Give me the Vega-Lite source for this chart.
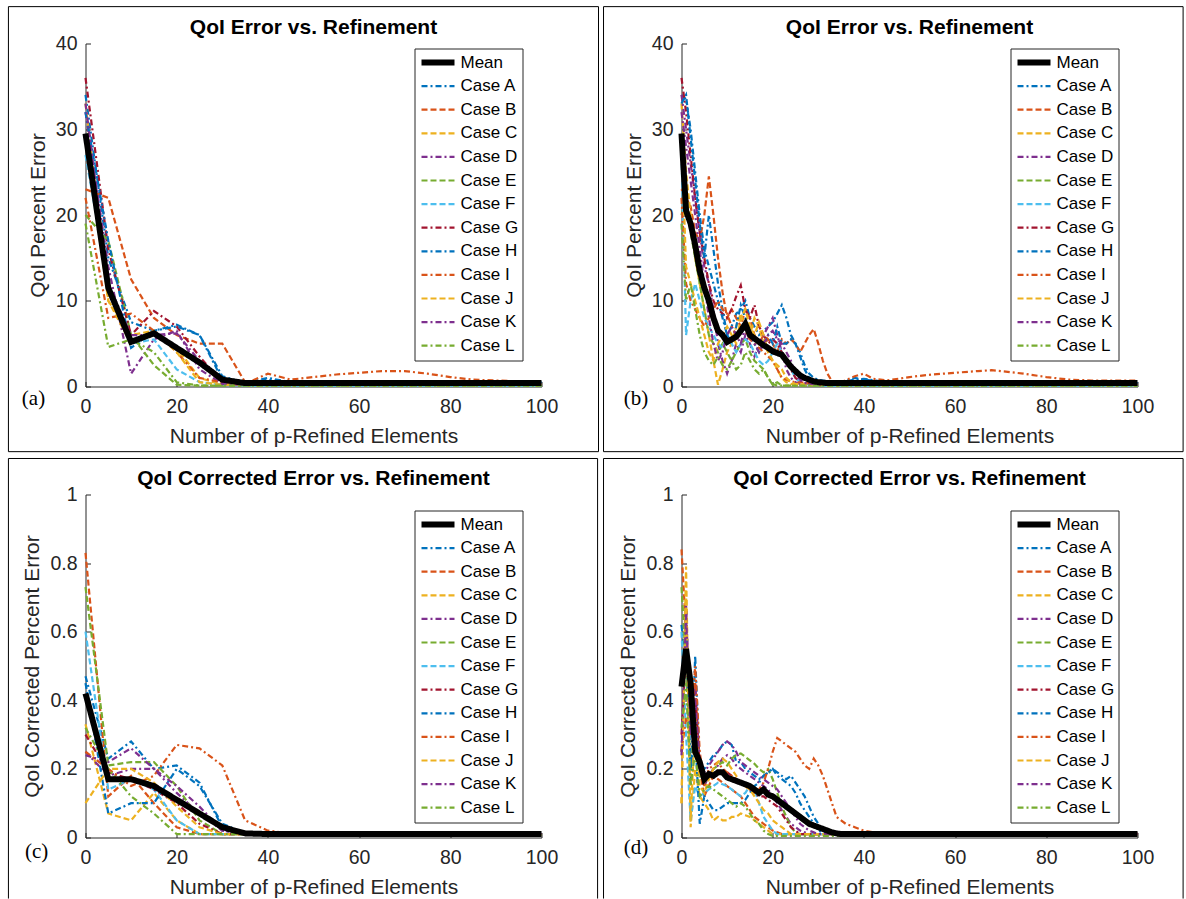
{
"$schema": "https://vega.github.io/schema/vega-lite/v6.json",
"background": "white",
"padding": {"left": 7.5, "top": 5.5, "right": 2, "bottom": 0},
"config": {
 "view": {"stroke": null},
 "font": "Liberation Sans",
 "axis": {"grid": false, "domainColor": "#262626", "domainWidth": 1, "tickColor": "#262626", "tickWidth": 1, "tickSize": -5, "labelColor": "#262626", "labelFont": "Liberation Sans", "labelFontSize": 19.5, "labelFlush": false, "labelOverlap": false, "titleColor": "#262626", "titleFont": "Liberation Sans", "titleFontSize": 21, "titleFontWeight": "normal"},
 "axisX": {"labelPadding": 15.5, "titlePadding": 10},
 "axisY": {"labelPadding": 13.5, "titlePadding": 7},
 "legend": {"orient": "none", "symbolType": "stroke", "symbolSize": 1089, "clipHeight": 20, "rowPadding": 3.6, "labelFont": "Liberation Sans", "labelFontSize": 17, "labelColor": "#000000", "labelOffset": 3, "padding": 4, "strokeColor": "#262626", "fillColor": "#ffffff"}
},
"datasets": {
"a": [
{"series":"Case A","x":0,"y":34},{"series":"Case A","x":5,"y":15},{"series":"Case A","x":10,"y":7.5},{"series":"Case A","x":15,"y":6.5},{"series":"Case A","x":20,"y":7.2},{"series":"Case A","x":25,"y":6},{"series":"Case A","x":30,"y":1.2},{"series":"Case A","x":35,"y":0.4},{"series":"Case A","x":40,"y":0.8},{"series":"Case A","x":45,"y":0.4},{"series":"Case A","x":100,"y":0.4},
{"series":"Case B","x":0,"y":23},{"series":"Case B","x":5,"y":22},{"series":"Case B","x":10,"y":12.5},{"series":"Case B","x":15,"y":8},{"series":"Case B","x":20,"y":6},{"series":"Case B","x":25,"y":5},{"series":"Case B","x":30,"y":5},{"series":"Case B","x":35,"y":0.5},{"series":"Case B","x":40,"y":0.3},{"series":"Case B","x":100,"y":0.3},
{"series":"Case C","x":0,"y":33},{"series":"Case C","x":5,"y":10},{"series":"Case C","x":10,"y":6},{"series":"Case C","x":15,"y":6.5},{"series":"Case C","x":20,"y":4.5},{"series":"Case C","x":25,"y":1},{"series":"Case C","x":30,"y":0.2},{"series":"Case C","x":35,"y":0.1},{"series":"Case C","x":100,"y":0.1},
{"series":"Case D","x":0,"y":32},{"series":"Case D","x":5,"y":14},{"series":"Case D","x":10,"y":1.5},{"series":"Case D","x":15,"y":5.5},{"series":"Case D","x":20,"y":6.5},{"series":"Case D","x":25,"y":2},{"series":"Case D","x":30,"y":0.3},{"series":"Case D","x":35,"y":0.2},{"series":"Case D","x":100,"y":0.2},
{"series":"Case E","x":0,"y":20},{"series":"Case E","x":5,"y":17},{"series":"Case E","x":10,"y":6},{"series":"Case E","x":15,"y":2.5},{"series":"Case E","x":20,"y":0.2},{"series":"Case E","x":25,"y":0.1},{"series":"Case E","x":100,"y":0.1},
{"series":"Case F","x":0,"y":27},{"series":"Case F","x":5,"y":12},{"series":"Case F","x":10,"y":5},{"series":"Case F","x":15,"y":5.5},{"series":"Case F","x":20,"y":2},{"series":"Case F","x":25,"y":0.5},{"series":"Case F","x":30,"y":0.2},{"series":"Case F","x":35,"y":0.1},{"series":"Case F","x":100,"y":0.1},
{"series":"Case G","x":0,"y":36},{"series":"Case G","x":5,"y":16},{"series":"Case G","x":10,"y":6},{"series":"Case G","x":15,"y":8.8},{"series":"Case G","x":20,"y":7},{"series":"Case G","x":25,"y":3.5},{"series":"Case G","x":30,"y":0.5},{"series":"Case G","x":35,"y":0.3},{"series":"Case G","x":100,"y":0.3},
{"series":"Case H","x":0,"y":32},{"series":"Case H","x":5,"y":17},{"series":"Case H","x":10,"y":4.5},{"series":"Case H","x":15,"y":6.5},{"series":"Case H","x":20,"y":7},{"series":"Case H","x":25,"y":6},{"series":"Case H","x":30,"y":0.8},{"series":"Case H","x":35,"y":0.4},{"series":"Case H","x":40,"y":1},{"series":"Case H","x":45,"y":0.5},{"series":"Case H","x":100,"y":0.5},
{"series":"Case I","x":0,"y":22},{"series":"Case I","x":5,"y":8},{"series":"Case I","x":10,"y":8.5},{"series":"Case I","x":15,"y":6.5},{"series":"Case I","x":20,"y":4},{"series":"Case I","x":25,"y":1},{"series":"Case I","x":30,"y":0.5},{"series":"Case I","x":35,"y":0.3},{"series":"Case I","x":40,"y":1.5},{"series":"Case I","x":45,"y":0.8},{"series":"Case I","x":50,"y":1.1},{"series":"Case I","x":55,"y":1.4},{"series":"Case I","x":60,"y":1.6},{"series":"Case I","x":65,"y":1.8},{"series":"Case I","x":70,"y":1.8},{"series":"Case I","x":75,"y":1.5},{"series":"Case I","x":80,"y":1.1},{"series":"Case I","x":85,"y":0.8},{"series":"Case I","x":90,"y":0.7},{"series":"Case I","x":95,"y":0.6},{"series":"Case I","x":100,"y":0.6},
{"series":"Case J","x":0,"y":29},{"series":"Case J","x":5,"y":10},{"series":"Case J","x":10,"y":5},{"series":"Case J","x":15,"y":6.5},{"series":"Case J","x":20,"y":4},{"series":"Case J","x":25,"y":0.5},{"series":"Case J","x":30,"y":0.2},{"series":"Case J","x":100,"y":0.2},
{"series":"Case K","x":0,"y":33},{"series":"Case K","x":5,"y":12},{"series":"Case K","x":10,"y":6},{"series":"Case K","x":15,"y":6},{"series":"Case K","x":20,"y":6.2},{"series":"Case K","x":25,"y":3},{"series":"Case K","x":30,"y":0.3},{"series":"Case K","x":35,"y":0.2},{"series":"Case K","x":100,"y":0.2},
{"series":"Case L","x":0,"y":19},{"series":"Case L","x":5,"y":4.6},{"series":"Case L","x":10,"y":5.5},{"series":"Case L","x":15,"y":4},{"series":"Case L","x":20,"y":0.5},{"series":"Case L","x":25,"y":0.1},{"series":"Case L","x":100,"y":0.1},
{"series":"Mean","x":0,"y":29.5},{"series":"Mean","x":5,"y":11.5},{"series":"Mean","x":10,"y":5.2},{"series":"Mean","x":15,"y":6.2},{"series":"Mean","x":20,"y":4.5},{"series":"Mean","x":25,"y":2.8},{"series":"Mean","x":30,"y":0.8},{"series":"Mean","x":35,"y":0.4},{"series":"Mean","x":100,"y":0.4}
],
"b": [
{"series":"Case A","x":0,"y":34},{"series":"Case A","x":1,"y":33.5},{"series":"Case A","x":2,"y":30},{"series":"Case A","x":3,"y":25},{"series":"Case A","x":4,"y":20},{"series":"Case A","x":5,"y":16},{"series":"Case A","x":6,"y":14},{"series":"Case A","x":7,"y":12},{"series":"Case A","x":8,"y":10},{"series":"Case A","x":9,"y":8},{"series":"Case A","x":10,"y":6},{"series":"Case A","x":11,"y":7},{"series":"Case A","x":12,"y":8.5},{"series":"Case A","x":13,"y":9},{"series":"Case A","x":14,"y":10},{"series":"Case A","x":15,"y":8},{"series":"Case A","x":16,"y":7},{"series":"Case A","x":17,"y":6},{"series":"Case A","x":18,"y":6.5},{"series":"Case A","x":19,"y":7},{"series":"Case A","x":20,"y":7.5},{"series":"Case A","x":21,"y":8.5},{"series":"Case A","x":22,"y":9.5},{"series":"Case A","x":23,"y":8},{"series":"Case A","x":24,"y":6},{"series":"Case A","x":25,"y":5},{"series":"Case A","x":26,"y":4},{"series":"Case A","x":27,"y":2.5},{"series":"Case A","x":28,"y":1.5},{"series":"Case A","x":29,"y":1},{"series":"Case A","x":30,"y":0.8},{"series":"Case A","x":32,"y":0.6},{"series":"Case A","x":35,"y":0.5},{"series":"Case A","x":38,"y":0.8},{"series":"Case A","x":40,"y":0.9},{"series":"Case A","x":45,"y":0.5},{"series":"Case A","x":100,"y":0.4},
{"series":"Case B","x":0,"y":23},{"series":"Case B","x":1,"y":22},{"series":"Case B","x":2,"y":21},{"series":"Case B","x":3,"y":18},{"series":"Case B","x":4,"y":17},{"series":"Case B","x":5,"y":20},{"series":"Case B","x":6,"y":24.5},{"series":"Case B","x":7,"y":20},{"series":"Case B","x":8,"y":15},{"series":"Case B","x":9,"y":11},{"series":"Case B","x":10,"y":8},{"series":"Case B","x":11,"y":9},{"series":"Case B","x":12,"y":8},{"series":"Case B","x":13,"y":7},{"series":"Case B","x":14,"y":9},{"series":"Case B","x":15,"y":8},{"series":"Case B","x":16,"y":6},{"series":"Case B","x":17,"y":5},{"series":"Case B","x":18,"y":6},{"series":"Case B","x":19,"y":5.5},{"series":"Case B","x":20,"y":5},{"series":"Case B","x":21,"y":4},{"series":"Case B","x":22,"y":5.5},{"series":"Case B","x":23,"y":5},{"series":"Case B","x":24,"y":5.5},{"series":"Case B","x":25,"y":5},{"series":"Case B","x":26,"y":4},{"series":"Case B","x":27,"y":5},{"series":"Case B","x":28,"y":6},{"series":"Case B","x":29,"y":6.7},{"series":"Case B","x":30,"y":5},{"series":"Case B","x":31,"y":3},{"series":"Case B","x":32,"y":1.5},{"series":"Case B","x":33,"y":0.6},{"series":"Case B","x":35,"y":0.4},{"series":"Case B","x":40,"y":0.3},{"series":"Case B","x":100,"y":0.3},
{"series":"Case C","x":0,"y":33},{"series":"Case C","x":1,"y":25},{"series":"Case C","x":2,"y":20},{"series":"Case C","x":3,"y":15},{"series":"Case C","x":4,"y":12},{"series":"Case C","x":5,"y":9},{"series":"Case C","x":6,"y":6},{"series":"Case C","x":7,"y":3},{"series":"Case C","x":8,"y":0.2},{"series":"Case C","x":9,"y":2},{"series":"Case C","x":10,"y":4},{"series":"Case C","x":11,"y":5},{"series":"Case C","x":12,"y":7},{"series":"Case C","x":13,"y":8.5},{"series":"Case C","x":14,"y":7},{"series":"Case C","x":15,"y":6},{"series":"Case C","x":16,"y":8},{"series":"Case C","x":17,"y":7},{"series":"Case C","x":18,"y":5},{"series":"Case C","x":19,"y":4},{"series":"Case C","x":20,"y":3},{"series":"Case C","x":21,"y":2},{"series":"Case C","x":22,"y":1},{"series":"Case C","x":23,"y":0.5},{"series":"Case C","x":24,"y":0.3},{"series":"Case C","x":25,"y":0.2},{"series":"Case C","x":30,"y":0.1},{"series":"Case C","x":100,"y":0.1},
{"series":"Case D","x":0,"y":34},{"series":"Case D","x":1,"y":30},{"series":"Case D","x":2,"y":26},{"series":"Case D","x":3,"y":22},{"series":"Case D","x":4,"y":18},{"series":"Case D","x":5,"y":14},{"series":"Case D","x":6,"y":12},{"series":"Case D","x":7,"y":9},{"series":"Case D","x":8,"y":5},{"series":"Case D","x":9,"y":3},{"series":"Case D","x":10,"y":1.5},{"series":"Case D","x":11,"y":3},{"series":"Case D","x":12,"y":5},{"series":"Case D","x":13,"y":4},{"series":"Case D","x":14,"y":6},{"series":"Case D","x":15,"y":5},{"series":"Case D","x":16,"y":3.5},{"series":"Case D","x":17,"y":5},{"series":"Case D","x":18,"y":6},{"series":"Case D","x":19,"y":7},{"series":"Case D","x":20,"y":8},{"series":"Case D","x":21,"y":6},{"series":"Case D","x":22,"y":4},{"series":"Case D","x":23,"y":2},{"series":"Case D","x":24,"y":1},{"series":"Case D","x":25,"y":0.5},{"series":"Case D","x":26,"y":0.3},{"series":"Case D","x":30,"y":0.2},{"series":"Case D","x":100,"y":0.2},
{"series":"Case E","x":0,"y":20},{"series":"Case E","x":1,"y":22},{"series":"Case E","x":2,"y":18},{"series":"Case E","x":3,"y":15},{"series":"Case E","x":4,"y":12},{"series":"Case E","x":5,"y":9},{"series":"Case E","x":6,"y":6},{"series":"Case E","x":7,"y":5},{"series":"Case E","x":8,"y":4},{"series":"Case E","x":9,"y":5},{"series":"Case E","x":10,"y":4},{"series":"Case E","x":11,"y":3},{"series":"Case E","x":12,"y":4},{"series":"Case E","x":13,"y":5},{"series":"Case E","x":14,"y":5.5},{"series":"Case E","x":15,"y":4},{"series":"Case E","x":16,"y":3},{"series":"Case E","x":17,"y":2.5},{"series":"Case E","x":18,"y":2},{"series":"Case E","x":19,"y":1},{"series":"Case E","x":20,"y":0.2},{"series":"Case E","x":21,"y":0.5},{"series":"Case E","x":22,"y":0.1},{"series":"Case E","x":100,"y":0.1},
{"series":"Case F","x":0,"y":27},{"series":"Case F","x":1,"y":6},{"series":"Case F","x":2,"y":10},{"series":"Case F","x":3,"y":12},{"series":"Case F","x":4,"y":10},{"series":"Case F","x":5,"y":8},{"series":"Case F","x":6,"y":7},{"series":"Case F","x":7,"y":6},{"series":"Case F","x":8,"y":5},{"series":"Case F","x":9,"y":4.5},{"series":"Case F","x":10,"y":6},{"series":"Case F","x":11,"y":5},{"series":"Case F","x":12,"y":4},{"series":"Case F","x":13,"y":5},{"series":"Case F","x":14,"y":5.5},{"series":"Case F","x":15,"y":5},{"series":"Case F","x":16,"y":4},{"series":"Case F","x":17,"y":3},{"series":"Case F","x":18,"y":2.5},{"series":"Case F","x":19,"y":3},{"series":"Case F","x":20,"y":4},{"series":"Case F","x":21,"y":5},{"series":"Case F","x":22,"y":4},{"series":"Case F","x":23,"y":3},{"series":"Case F","x":24,"y":2},{"series":"Case F","x":25,"y":1},{"series":"Case F","x":26,"y":0.5},{"series":"Case F","x":27,"y":0.3},{"series":"Case F","x":30,"y":0.1},{"series":"Case F","x":100,"y":0.1},
{"series":"Case G","x":0,"y":36},{"series":"Case G","x":1,"y":32},{"series":"Case G","x":2,"y":27},{"series":"Case G","x":3,"y":22},{"series":"Case G","x":4,"y":18},{"series":"Case G","x":5,"y":15},{"series":"Case G","x":6,"y":12},{"series":"Case G","x":7,"y":10},{"series":"Case G","x":8,"y":9},{"series":"Case G","x":9,"y":8.5},{"series":"Case G","x":10,"y":8},{"series":"Case G","x":11,"y":9},{"series":"Case G","x":12,"y":10.5},{"series":"Case G","x":13,"y":11.8},{"series":"Case G","x":14,"y":9},{"series":"Case G","x":15,"y":8},{"series":"Case G","x":16,"y":9.5},{"series":"Case G","x":17,"y":7},{"series":"Case G","x":18,"y":6},{"series":"Case G","x":19,"y":5},{"series":"Case G","x":20,"y":5.5},{"series":"Case G","x":21,"y":5},{"series":"Case G","x":22,"y":4},{"series":"Case G","x":23,"y":3},{"series":"Case G","x":24,"y":2},{"series":"Case G","x":25,"y":1},{"series":"Case G","x":26,"y":0.6},{"series":"Case G","x":27,"y":0.4},{"series":"Case G","x":30,"y":0.3},{"series":"Case G","x":100,"y":0.3},
{"series":"Case H","x":0,"y":33},{"series":"Case H","x":1,"y":34},{"series":"Case H","x":2,"y":29},{"series":"Case H","x":3,"y":24},{"series":"Case H","x":4,"y":19},{"series":"Case H","x":5,"y":15},{"series":"Case H","x":6,"y":20},{"series":"Case H","x":7,"y":16},{"series":"Case H","x":8,"y":12},{"series":"Case H","x":9,"y":9},{"series":"Case H","x":10,"y":6},{"series":"Case H","x":11,"y":5},{"series":"Case H","x":12,"y":7},{"series":"Case H","x":13,"y":9.5},{"series":"Case H","x":14,"y":8},{"series":"Case H","x":15,"y":6},{"series":"Case H","x":16,"y":5},{"series":"Case H","x":17,"y":4},{"series":"Case H","x":18,"y":5},{"series":"Case H","x":19,"y":6},{"series":"Case H","x":20,"y":5},{"series":"Case H","x":21,"y":7},{"series":"Case H","x":22,"y":5},{"series":"Case H","x":23,"y":5},{"series":"Case H","x":24,"y":5.5},{"series":"Case H","x":25,"y":5},{"series":"Case H","x":26,"y":3.5},{"series":"Case H","x":27,"y":2},{"series":"Case H","x":28,"y":1},{"series":"Case H","x":29,"y":0.6},{"series":"Case H","x":30,"y":0.5},{"series":"Case H","x":35,"y":0.5},{"series":"Case H","x":38,"y":1},{"series":"Case H","x":40,"y":0.8},{"series":"Case H","x":45,"y":0.5},{"series":"Case H","x":100,"y":0.4},
{"series":"Case I","x":0,"y":22},{"series":"Case I","x":1,"y":12},{"series":"Case I","x":2,"y":10},{"series":"Case I","x":3,"y":9},{"series":"Case I","x":4,"y":8},{"series":"Case I","x":5,"y":7},{"series":"Case I","x":6,"y":8},{"series":"Case I","x":7,"y":9},{"series":"Case I","x":8,"y":10},{"series":"Case I","x":9,"y":9},{"series":"Case I","x":10,"y":8.5},{"series":"Case I","x":11,"y":7},{"series":"Case I","x":12,"y":6},{"series":"Case I","x":13,"y":7},{"series":"Case I","x":14,"y":6.5},{"series":"Case I","x":15,"y":5.5},{"series":"Case I","x":16,"y":5},{"series":"Case I","x":17,"y":4.5},{"series":"Case I","x":18,"y":4},{"series":"Case I","x":19,"y":3.5},{"series":"Case I","x":20,"y":3},{"series":"Case I","x":21,"y":2},{"series":"Case I","x":22,"y":1},{"series":"Case I","x":23,"y":0.8},{"series":"Case I","x":24,"y":0.6},{"series":"Case I","x":25,"y":0.5},{"series":"Case I","x":30,"y":0.4},{"series":"Case I","x":35,"y":0.5},{"series":"Case I","x":38,"y":1.2},{"series":"Case I","x":40,"y":1.5},{"series":"Case I","x":42,"y":0.9},{"series":"Case I","x":45,"y":0.7},{"series":"Case I","x":50,"y":1.1},{"series":"Case I","x":55,"y":1.4},{"series":"Case I","x":60,"y":1.6},{"series":"Case I","x":65,"y":1.8},{"series":"Case I","x":68,"y":1.9},{"series":"Case I","x":70,"y":1.8},{"series":"Case I","x":75,"y":1.5},{"series":"Case I","x":80,"y":1.1},{"series":"Case I","x":85,"y":0.8},{"series":"Case I","x":90,"y":0.7},{"series":"Case I","x":100,"y":0.7},
{"series":"Case J","x":0,"y":29},{"series":"Case J","x":1,"y":14},{"series":"Case J","x":2,"y":12},{"series":"Case J","x":3,"y":10},{"series":"Case J","x":4,"y":8},{"series":"Case J","x":5,"y":6},{"series":"Case J","x":6,"y":4},{"series":"Case J","x":7,"y":3},{"series":"Case J","x":8,"y":5},{"series":"Case J","x":9,"y":6},{"series":"Case J","x":10,"y":7},{"series":"Case J","x":11,"y":6},{"series":"Case J","x":12,"y":5},{"series":"Case J","x":13,"y":8},{"series":"Case J","x":14,"y":9},{"series":"Case J","x":15,"y":7},{"series":"Case J","x":16,"y":6},{"series":"Case J","x":17,"y":7.5},{"series":"Case J","x":18,"y":6},{"series":"Case J","x":19,"y":4},{"series":"Case J","x":20,"y":3},{"series":"Case J","x":21,"y":2.5},{"series":"Case J","x":22,"y":2},{"series":"Case J","x":23,"y":1},{"series":"Case J","x":24,"y":0.5},{"series":"Case J","x":25,"y":0.3},{"series":"Case J","x":30,"y":0.2},{"series":"Case J","x":100,"y":0.2},
{"series":"Case K","x":0,"y":32},{"series":"Case K","x":1,"y":28},{"series":"Case K","x":2,"y":24},{"series":"Case K","x":3,"y":20},{"series":"Case K","x":4,"y":16},{"series":"Case K","x":5,"y":12},{"series":"Case K","x":6,"y":8},{"series":"Case K","x":7,"y":5},{"series":"Case K","x":8,"y":3},{"series":"Case K","x":9,"y":4},{"series":"Case K","x":10,"y":6},{"series":"Case K","x":11,"y":7},{"series":"Case K","x":12,"y":6},{"series":"Case K","x":13,"y":5},{"series":"Case K","x":14,"y":7},{"series":"Case K","x":15,"y":6},{"series":"Case K","x":16,"y":5},{"series":"Case K","x":17,"y":4},{"series":"Case K","x":18,"y":5},{"series":"Case K","x":19,"y":6},{"series":"Case K","x":20,"y":6.5},{"series":"Case K","x":21,"y":5.5},{"series":"Case K","x":22,"y":5},{"series":"Case K","x":23,"y":4},{"series":"Case K","x":24,"y":3},{"series":"Case K","x":25,"y":1.5},{"series":"Case K","x":26,"y":0.8},{"series":"Case K","x":27,"y":0.4},{"series":"Case K","x":30,"y":0.2},{"series":"Case K","x":100,"y":0.2},
{"series":"Case L","x":0,"y":19},{"series":"Case L","x":1,"y":10},{"series":"Case L","x":2,"y":12},{"series":"Case L","x":3,"y":9},{"series":"Case L","x":4,"y":6},{"series":"Case L","x":5,"y":4},{"series":"Case L","x":6,"y":3},{"series":"Case L","x":7,"y":2.5},{"series":"Case L","x":8,"y":3.5},{"series":"Case L","x":9,"y":2.5},{"series":"Case L","x":10,"y":2},{"series":"Case L","x":11,"y":3},{"series":"Case L","x":12,"y":2},{"series":"Case L","x":13,"y":2.5},{"series":"Case L","x":14,"y":4},{"series":"Case L","x":15,"y":3},{"series":"Case L","x":16,"y":2},{"series":"Case L","x":17,"y":1.5},{"series":"Case L","x":18,"y":2},{"series":"Case L","x":19,"y":1},{"series":"Case L","x":20,"y":0.3},{"series":"Case L","x":21,"y":0.1},{"series":"Case L","x":100,"y":0.1},
{"series":"Mean","x":0,"y":29.5},{"series":"Mean","x":1,"y":20.5},{"series":"Mean","x":2,"y":19},{"series":"Mean","x":3,"y":16.5},{"series":"Mean","x":4,"y":13.5},{"series":"Mean","x":5,"y":11.5},{"series":"Mean","x":6,"y":10},{"series":"Mean","x":7,"y":8},{"series":"Mean","x":8,"y":6.5},{"series":"Mean","x":9,"y":6},{"series":"Mean","x":10,"y":5.2},{"series":"Mean","x":11,"y":5.5},{"series":"Mean","x":12,"y":5.8},{"series":"Mean","x":13,"y":6.5},{"series":"Mean","x":14,"y":7.3},{"series":"Mean","x":15,"y":6},{"series":"Mean","x":16,"y":5.6},{"series":"Mean","x":17,"y":5.2},{"series":"Mean","x":18,"y":4.8},{"series":"Mean","x":19,"y":4.5},{"series":"Mean","x":20,"y":4.1},{"series":"Mean","x":21,"y":3.9},{"series":"Mean","x":22,"y":3.7},{"series":"Mean","x":23,"y":3},{"series":"Mean","x":24,"y":2.3},{"series":"Mean","x":25,"y":1.8},{"series":"Mean","x":26,"y":1.3},{"series":"Mean","x":27,"y":1},{"series":"Mean","x":28,"y":0.8},{"series":"Mean","x":29,"y":0.6},{"series":"Mean","x":30,"y":0.5},{"series":"Mean","x":32,"y":0.4},{"series":"Mean","x":100,"y":0.4}
],
"c": [
{"series":"Case A","x":0,"y":0.47},{"series":"Case A","x":5,"y":0.23},{"series":"Case A","x":10,"y":0.28},{"series":"Case A","x":15,"y":0.2},{"series":"Case A","x":20,"y":0.21},{"series":"Case A","x":25,"y":0.16},{"series":"Case A","x":30,"y":0.03},{"series":"Case A","x":35,"y":0.012},{"series":"Case A","x":100,"y":0.012},
{"series":"Case B","x":0,"y":0.83},{"series":"Case B","x":5,"y":0.12},{"series":"Case B","x":10,"y":0.18},{"series":"Case B","x":15,"y":0.1},{"series":"Case B","x":20,"y":0.03},{"series":"Case B","x":25,"y":0.01},{"series":"Case B","x":100,"y":0.01},
{"series":"Case C","x":0,"y":0.33},{"series":"Case C","x":5,"y":0.07},{"series":"Case C","x":10,"y":0.05},{"series":"Case C","x":15,"y":0.13},{"series":"Case C","x":20,"y":0.05},{"series":"Case C","x":25,"y":0.01},{"series":"Case C","x":100,"y":0.008},
{"series":"Case D","x":0,"y":0.25},{"series":"Case D","x":5,"y":0.18},{"series":"Case D","x":10,"y":0.2},{"series":"Case D","x":15,"y":0.2},{"series":"Case D","x":20,"y":0.13},{"series":"Case D","x":25,"y":0.07},{"series":"Case D","x":30,"y":0.02},{"series":"Case D","x":35,"y":0.01},{"series":"Case D","x":100,"y":0.01},
{"series":"Case E","x":0,"y":0.73},{"series":"Case E","x":5,"y":0.21},{"series":"Case E","x":10,"y":0.22},{"series":"Case E","x":15,"y":0.22},{"series":"Case E","x":20,"y":0.15},{"series":"Case E","x":25,"y":0.05},{"series":"Case E","x":30,"y":0.01},{"series":"Case E","x":100,"y":0.01},
{"series":"Case F","x":0,"y":0.6},{"series":"Case F","x":5,"y":0.14},{"series":"Case F","x":10,"y":0.17},{"series":"Case F","x":15,"y":0.14},{"series":"Case F","x":20,"y":0.05},{"series":"Case F","x":25,"y":0.01},{"series":"Case F","x":100,"y":0.008},
{"series":"Case G","x":0,"y":0.3},{"series":"Case G","x":5,"y":0.19},{"series":"Case G","x":10,"y":0.17},{"series":"Case G","x":15,"y":0.14},{"series":"Case G","x":20,"y":0.1},{"series":"Case G","x":25,"y":0.04},{"series":"Case G","x":30,"y":0.01},{"series":"Case G","x":100,"y":0.01},
{"series":"Case H","x":0,"y":0.45},{"series":"Case H","x":5,"y":0.07},{"series":"Case H","x":10,"y":0.1},{"series":"Case H","x":15,"y":0.1},{"series":"Case H","x":20,"y":0.2},{"series":"Case H","x":25,"y":0.15},{"series":"Case H","x":30,"y":0.04},{"series":"Case H","x":35,"y":0.012},{"series":"Case H","x":100,"y":0.012},
{"series":"Case I","x":0,"y":0.25},{"series":"Case I","x":5,"y":0.2},{"series":"Case I","x":10,"y":0.15},{"series":"Case I","x":15,"y":0.18},{"series":"Case I","x":20,"y":0.27},{"series":"Case I","x":25,"y":0.26},{"series":"Case I","x":30,"y":0.21},{"series":"Case I","x":35,"y":0.05},{"series":"Case I","x":40,"y":0.02},{"series":"Case I","x":45,"y":0.012},{"series":"Case I","x":100,"y":0.012},
{"series":"Case J","x":0,"y":0.1},{"series":"Case J","x":5,"y":0.2},{"series":"Case J","x":10,"y":0.2},{"series":"Case J","x":15,"y":0.16},{"series":"Case J","x":20,"y":0.09},{"series":"Case J","x":25,"y":0.03},{"series":"Case J","x":30,"y":0.01},{"series":"Case J","x":100,"y":0.008},
{"series":"Case K","x":0,"y":0.24},{"series":"Case K","x":5,"y":0.22},{"series":"Case K","x":10,"y":0.26},{"series":"Case K","x":15,"y":0.2},{"series":"Case K","x":20,"y":0.15},{"series":"Case K","x":25,"y":0.09},{"series":"Case K","x":30,"y":0.02},{"series":"Case K","x":35,"y":0.01},{"series":"Case K","x":100,"y":0.01},
{"series":"Case L","x":0,"y":0.32},{"series":"Case L","x":5,"y":0.2},{"series":"Case L","x":10,"y":0.12},{"series":"Case L","x":15,"y":0.07},{"series":"Case L","x":20,"y":0.01},{"series":"Case L","x":100,"y":0.008},
{"series":"Mean","x":0,"y":0.42},{"series":"Mean","x":5,"y":0.17},{"series":"Mean","x":10,"y":0.17},{"series":"Mean","x":15,"y":0.15},{"series":"Mean","x":20,"y":0.11},{"series":"Mean","x":25,"y":0.07},{"series":"Mean","x":30,"y":0.03},{"series":"Mean","x":35,"y":0.012},{"series":"Mean","x":40,"y":0.01},{"series":"Mean","x":100,"y":0.01}
],
"d": [
{"series":"Case A","x":0,"y":0.62},{"series":"Case A","x":1,"y":0.5},{"series":"Case A","x":2,"y":0.15},{"series":"Case A","x":3,"y":0.53},{"series":"Case A","x":4,"y":0.2},{"series":"Case A","x":5,"y":0.2},{"series":"Case A","x":6,"y":0.22},{"series":"Case A","x":7,"y":0.24},{"series":"Case A","x":8,"y":0.25},{"series":"Case A","x":9,"y":0.27},{"series":"Case A","x":10,"y":0.28},{"series":"Case A","x":11,"y":0.27},{"series":"Case A","x":12,"y":0.22},{"series":"Case A","x":13,"y":0.22},{"series":"Case A","x":14,"y":0.2},{"series":"Case A","x":15,"y":0.19},{"series":"Case A","x":16,"y":0.18},{"series":"Case A","x":17,"y":0.17},{"series":"Case A","x":18,"y":0.18},{"series":"Case A","x":19,"y":0.19},{"series":"Case A","x":20,"y":0.2},{"series":"Case A","x":21,"y":0.19},{"series":"Case A","x":22,"y":0.18},{"series":"Case A","x":23,"y":0.17},{"series":"Case A","x":24,"y":0.18},{"series":"Case A","x":25,"y":0.16},{"series":"Case A","x":26,"y":0.14},{"series":"Case A","x":27,"y":0.12},{"series":"Case A","x":28,"y":0.09},{"series":"Case A","x":29,"y":0.06},{"series":"Case A","x":30,"y":0.04},{"series":"Case A","x":31,"y":0.02},{"series":"Case A","x":32,"y":0.015},{"series":"Case A","x":33,"y":0.012},{"series":"Case A","x":100,"y":0.012},
{"series":"Case B","x":0,"y":0.84},{"series":"Case B","x":1,"y":0.6},{"series":"Case B","x":2,"y":0.3},{"series":"Case B","x":3,"y":0.45},{"series":"Case B","x":4,"y":0.2},{"series":"Case B","x":5,"y":0.12},{"series":"Case B","x":6,"y":0.15},{"series":"Case B","x":7,"y":0.18},{"series":"Case B","x":8,"y":0.17},{"series":"Case B","x":9,"y":0.16},{"series":"Case B","x":10,"y":0.15},{"series":"Case B","x":11,"y":0.14},{"series":"Case B","x":12,"y":0.13},{"series":"Case B","x":13,"y":0.12},{"series":"Case B","x":14,"y":0.1},{"series":"Case B","x":15,"y":0.08},{"series":"Case B","x":16,"y":0.06},{"series":"Case B","x":17,"y":0.05},{"series":"Case B","x":18,"y":0.04},{"series":"Case B","x":19,"y":0.03},{"series":"Case B","x":20,"y":0.02},{"series":"Case B","x":21,"y":0.015},{"series":"Case B","x":22,"y":0.01},{"series":"Case B","x":100,"y":0.01},
{"series":"Case C","x":0,"y":0.1},{"series":"Case C","x":1,"y":0.79},{"series":"Case C","x":2,"y":0.03},{"series":"Case C","x":3,"y":0.2},{"series":"Case C","x":4,"y":0.12},{"series":"Case C","x":5,"y":0.1},{"series":"Case C","x":6,"y":0.08},{"series":"Case C","x":7,"y":0.05},{"series":"Case C","x":8,"y":0.06},{"series":"Case C","x":9,"y":0.05},{"series":"Case C","x":10,"y":0.05},{"series":"Case C","x":11,"y":0.06},{"series":"Case C","x":12,"y":0.06},{"series":"Case C","x":13,"y":0.07},{"series":"Case C","x":14,"y":0.065},{"series":"Case C","x":15,"y":0.06},{"series":"Case C","x":16,"y":0.05},{"series":"Case C","x":17,"y":0.04},{"series":"Case C","x":18,"y":0.03},{"series":"Case C","x":19,"y":0.02},{"series":"Case C","x":20,"y":0.01},{"series":"Case C","x":100,"y":0.008},
{"series":"Case D","x":0,"y":0.25},{"series":"Case D","x":1,"y":0.68},{"series":"Case D","x":2,"y":0.3},{"series":"Case D","x":3,"y":0.45},{"series":"Case D","x":4,"y":0.2},{"series":"Case D","x":5,"y":0.15},{"series":"Case D","x":6,"y":0.18},{"series":"Case D","x":7,"y":0.2},{"series":"Case D","x":8,"y":0.21},{"series":"Case D","x":9,"y":0.23},{"series":"Case D","x":10,"y":0.24},{"series":"Case D","x":11,"y":0.23},{"series":"Case D","x":12,"y":0.21},{"series":"Case D","x":13,"y":0.2},{"series":"Case D","x":14,"y":0.19},{"series":"Case D","x":15,"y":0.18},{"series":"Case D","x":16,"y":0.17},{"series":"Case D","x":17,"y":0.16},{"series":"Case D","x":18,"y":0.15},{"series":"Case D","x":19,"y":0.14},{"series":"Case D","x":20,"y":0.12},{"series":"Case D","x":21,"y":0.1},{"series":"Case D","x":22,"y":0.08},{"series":"Case D","x":23,"y":0.06},{"series":"Case D","x":24,"y":0.04},{"series":"Case D","x":25,"y":0.03},{"series":"Case D","x":26,"y":0.02},{"series":"Case D","x":27,"y":0.015},{"series":"Case D","x":28,"y":0.01},{"series":"Case D","x":100,"y":0.01},
{"series":"Case E","x":0,"y":0.73},{"series":"Case E","x":1,"y":0.5},{"series":"Case E","x":2,"y":0.2},{"series":"Case E","x":3,"y":0.35},{"series":"Case E","x":4,"y":0.18},{"series":"Case E","x":5,"y":0.16},{"series":"Case E","x":6,"y":0.18},{"series":"Case E","x":7,"y":0.2},{"series":"Case E","x":8,"y":0.21},{"series":"Case E","x":9,"y":0.22},{"series":"Case E","x":10,"y":0.21},{"series":"Case E","x":11,"y":0.23},{"series":"Case E","x":12,"y":0.24},{"series":"Case E","x":13,"y":0.245},{"series":"Case E","x":14,"y":0.235},{"series":"Case E","x":15,"y":0.225},{"series":"Case E","x":16,"y":0.215},{"series":"Case E","x":17,"y":0.2},{"series":"Case E","x":18,"y":0.19},{"series":"Case E","x":19,"y":0.2},{"series":"Case E","x":20,"y":0.17},{"series":"Case E","x":21,"y":0.13},{"series":"Case E","x":22,"y":0.09},{"series":"Case E","x":23,"y":0.06},{"series":"Case E","x":24,"y":0.03},{"series":"Case E","x":25,"y":0.015},{"series":"Case E","x":26,"y":0.01},{"series":"Case E","x":100,"y":0.01},
{"series":"Case F","x":0,"y":0.6},{"series":"Case F","x":1,"y":0.3},{"series":"Case F","x":2,"y":0.05},{"series":"Case F","x":3,"y":0.15},{"series":"Case F","x":4,"y":0.12},{"series":"Case F","x":5,"y":0.13},{"series":"Case F","x":6,"y":0.14},{"series":"Case F","x":7,"y":0.15},{"series":"Case F","x":8,"y":0.16},{"series":"Case F","x":9,"y":0.155},{"series":"Case F","x":10,"y":0.15},{"series":"Case F","x":11,"y":0.14},{"series":"Case F","x":12,"y":0.13},{"series":"Case F","x":13,"y":0.12},{"series":"Case F","x":14,"y":0.13},{"series":"Case F","x":15,"y":0.15},{"series":"Case F","x":16,"y":0.14},{"series":"Case F","x":17,"y":0.1},{"series":"Case F","x":18,"y":0.06},{"series":"Case F","x":19,"y":0.04},{"series":"Case F","x":20,"y":0.02},{"series":"Case F","x":21,"y":0.01},{"series":"Case F","x":100,"y":0.008},
{"series":"Case G","x":0,"y":0.3},{"series":"Case G","x":1,"y":0.55},{"series":"Case G","x":2,"y":0.35},{"series":"Case G","x":3,"y":0.4},{"series":"Case G","x":4,"y":0.2},{"series":"Case G","x":5,"y":0.17},{"series":"Case G","x":6,"y":0.18},{"series":"Case G","x":7,"y":0.19},{"series":"Case G","x":8,"y":0.19},{"series":"Case G","x":9,"y":0.2},{"series":"Case G","x":10,"y":0.19},{"series":"Case G","x":11,"y":0.18},{"series":"Case G","x":12,"y":0.17},{"series":"Case G","x":13,"y":0.16},{"series":"Case G","x":14,"y":0.15},{"series":"Case G","x":15,"y":0.14},{"series":"Case G","x":16,"y":0.13},{"series":"Case G","x":17,"y":0.12},{"series":"Case G","x":18,"y":0.12},{"series":"Case G","x":19,"y":0.11},{"series":"Case G","x":20,"y":0.1},{"series":"Case G","x":21,"y":0.09},{"series":"Case G","x":22,"y":0.07},{"series":"Case G","x":23,"y":0.05},{"series":"Case G","x":24,"y":0.03},{"series":"Case G","x":25,"y":0.02},{"series":"Case G","x":26,"y":0.01},{"series":"Case G","x":100,"y":0.01},
{"series":"Case H","x":0,"y":0.45},{"series":"Case H","x":1,"y":0.6},{"series":"Case H","x":2,"y":0.2},{"series":"Case H","x":3,"y":0.3},{"series":"Case H","x":4,"y":0.04},{"series":"Case H","x":5,"y":0.12},{"series":"Case H","x":6,"y":0.1},{"series":"Case H","x":7,"y":0.08},{"series":"Case H","x":8,"y":0.08},{"series":"Case H","x":9,"y":0.09},{"series":"Case H","x":10,"y":0.1},{"series":"Case H","x":11,"y":0.1},{"series":"Case H","x":12,"y":0.1},{"series":"Case H","x":13,"y":0.1},{"series":"Case H","x":14,"y":0.11},{"series":"Case H","x":15,"y":0.13},{"series":"Case H","x":16,"y":0.15},{"series":"Case H","x":17,"y":0.16},{"series":"Case H","x":18,"y":0.18},{"series":"Case H","x":19,"y":0.19},{"series":"Case H","x":20,"y":0.2},{"series":"Case H","x":21,"y":0.18},{"series":"Case H","x":22,"y":0.17},{"series":"Case H","x":23,"y":0.16},{"series":"Case H","x":24,"y":0.15},{"series":"Case H","x":25,"y":0.13},{"series":"Case H","x":26,"y":0.1},{"series":"Case H","x":27,"y":0.08},{"series":"Case H","x":28,"y":0.06},{"series":"Case H","x":29,"y":0.04},{"series":"Case H","x":30,"y":0.02},{"series":"Case H","x":31,"y":0.015},{"series":"Case H","x":32,"y":0.012},{"series":"Case H","x":100,"y":0.012},
{"series":"Case I","x":0,"y":0.25},{"series":"Case I","x":1,"y":0.35},{"series":"Case I","x":2,"y":0.3},{"series":"Case I","x":3,"y":0.5},{"series":"Case I","x":4,"y":0.25},{"series":"Case I","x":5,"y":0.15},{"series":"Case I","x":6,"y":0.2},{"series":"Case I","x":7,"y":0.21},{"series":"Case I","x":8,"y":0.22},{"series":"Case I","x":9,"y":0.2},{"series":"Case I","x":10,"y":0.19},{"series":"Case I","x":11,"y":0.18},{"series":"Case I","x":12,"y":0.17},{"series":"Case I","x":13,"y":0.16},{"series":"Case I","x":14,"y":0.15},{"series":"Case I","x":15,"y":0.14},{"series":"Case I","x":16,"y":0.13},{"series":"Case I","x":17,"y":0.14},{"series":"Case I","x":18,"y":0.16},{"series":"Case I","x":19,"y":0.2},{"series":"Case I","x":20,"y":0.25},{"series":"Case I","x":21,"y":0.29},{"series":"Case I","x":22,"y":0.28},{"series":"Case I","x":23,"y":0.27},{"series":"Case I","x":24,"y":0.26},{"series":"Case I","x":25,"y":0.25},{"series":"Case I","x":26,"y":0.23},{"series":"Case I","x":27,"y":0.21},{"series":"Case I","x":28,"y":0.2},{"series":"Case I","x":29,"y":0.23},{"series":"Case I","x":30,"y":0.21},{"series":"Case I","x":31,"y":0.18},{"series":"Case I","x":32,"y":0.14},{"series":"Case I","x":33,"y":0.1},{"series":"Case I","x":34,"y":0.06},{"series":"Case I","x":35,"y":0.05},{"series":"Case I","x":36,"y":0.04},{"series":"Case I","x":38,"y":0.03},{"series":"Case I","x":40,"y":0.02},{"series":"Case I","x":42,"y":0.015},{"series":"Case I","x":45,"y":0.012},{"series":"Case I","x":100,"y":0.012},
{"series":"Case J","x":0,"y":0.1},{"series":"Case J","x":1,"y":0.7},{"series":"Case J","x":2,"y":0.05},{"series":"Case J","x":3,"y":0.35},{"series":"Case J","x":4,"y":0.15},{"series":"Case J","x":5,"y":0.13},{"series":"Case J","x":6,"y":0.17},{"series":"Case J","x":7,"y":0.2},{"series":"Case J","x":8,"y":0.22},{"series":"Case J","x":9,"y":0.23},{"series":"Case J","x":10,"y":0.22},{"series":"Case J","x":11,"y":0.2},{"series":"Case J","x":12,"y":0.18},{"series":"Case J","x":13,"y":0.16},{"series":"Case J","x":14,"y":0.15},{"series":"Case J","x":15,"y":0.14},{"series":"Case J","x":16,"y":0.12},{"series":"Case J","x":17,"y":0.1},{"series":"Case J","x":18,"y":0.08},{"series":"Case J","x":19,"y":0.07},{"series":"Case J","x":20,"y":0.05},{"series":"Case J","x":21,"y":0.04},{"series":"Case J","x":22,"y":0.03},{"series":"Case J","x":23,"y":0.02},{"series":"Case J","x":24,"y":0.01},{"series":"Case J","x":100,"y":0.008},
{"series":"Case K","x":0,"y":0.24},{"series":"Case K","x":1,"y":0.65},{"series":"Case K","x":2,"y":0.3},{"series":"Case K","x":3,"y":0.4},{"series":"Case K","x":4,"y":0.22},{"series":"Case K","x":5,"y":0.19},{"series":"Case K","x":6,"y":0.21},{"series":"Case K","x":7,"y":0.23},{"series":"Case K","x":8,"y":0.25},{"series":"Case K","x":9,"y":0.27},{"series":"Case K","x":10,"y":0.28},{"series":"Case K","x":11,"y":0.27},{"series":"Case K","x":12,"y":0.25},{"series":"Case K","x":13,"y":0.22},{"series":"Case K","x":14,"y":0.21},{"series":"Case K","x":15,"y":0.2},{"series":"Case K","x":16,"y":0.19},{"series":"Case K","x":17,"y":0.18},{"series":"Case K","x":18,"y":0.17},{"series":"Case K","x":19,"y":0.16},{"series":"Case K","x":20,"y":0.15},{"series":"Case K","x":21,"y":0.14},{"series":"Case K","x":22,"y":0.12},{"series":"Case K","x":23,"y":0.1},{"series":"Case K","x":24,"y":0.08},{"series":"Case K","x":25,"y":0.06},{"series":"Case K","x":26,"y":0.04},{"series":"Case K","x":27,"y":0.03},{"series":"Case K","x":28,"y":0.02},{"series":"Case K","x":29,"y":0.015},{"series":"Case K","x":30,"y":0.01},{"series":"Case K","x":100,"y":0.01},
{"series":"Case L","x":0,"y":0.32},{"series":"Case L","x":1,"y":0.45},{"series":"Case L","x":2,"y":0.15},{"series":"Case L","x":3,"y":0.25},{"series":"Case L","x":4,"y":0.12},{"series":"Case L","x":5,"y":0.14},{"series":"Case L","x":6,"y":0.15},{"series":"Case L","x":7,"y":0.14},{"series":"Case L","x":8,"y":0.13},{"series":"Case L","x":9,"y":0.12},{"series":"Case L","x":10,"y":0.11},{"series":"Case L","x":11,"y":0.1},{"series":"Case L","x":12,"y":0.09},{"series":"Case L","x":13,"y":0.1},{"series":"Case L","x":14,"y":0.09},{"series":"Case L","x":15,"y":0.07},{"series":"Case L","x":16,"y":0.05},{"series":"Case L","x":17,"y":0.04},{"series":"Case L","x":18,"y":0.02},{"series":"Case L","x":19,"y":0.01},{"series":"Case L","x":20,"y":0.005},{"series":"Case L","x":100,"y":0.005},
{"series":"Mean","x":0,"y":0.44},{"series":"Mean","x":1,"y":0.55},{"series":"Mean","x":2,"y":0.45},{"series":"Mean","x":3,"y":0.25},{"series":"Mean","x":4,"y":0.22},{"series":"Mean","x":5,"y":0.17},{"series":"Mean","x":6,"y":0.185},{"series":"Mean","x":7,"y":0.18},{"series":"Mean","x":8,"y":0.19},{"series":"Mean","x":9,"y":0.19},{"series":"Mean","x":10,"y":0.175},{"series":"Mean","x":11,"y":0.17},{"series":"Mean","x":12,"y":0.165},{"series":"Mean","x":13,"y":0.16},{"series":"Mean","x":14,"y":0.155},{"series":"Mean","x":15,"y":0.15},{"series":"Mean","x":16,"y":0.14},{"series":"Mean","x":17,"y":0.13},{"series":"Mean","x":18,"y":0.14},{"series":"Mean","x":19,"y":0.125},{"series":"Mean","x":20,"y":0.12},{"series":"Mean","x":21,"y":0.11},{"series":"Mean","x":22,"y":0.1},{"series":"Mean","x":23,"y":0.09},{"series":"Mean","x":24,"y":0.08},{"series":"Mean","x":25,"y":0.07},{"series":"Mean","x":26,"y":0.06},{"series":"Mean","x":27,"y":0.05},{"series":"Mean","x":28,"y":0.04},{"series":"Mean","x":29,"y":0.035},{"series":"Mean","x":30,"y":0.03},{"series":"Mean","x":31,"y":0.025},{"series":"Mean","x":32,"y":0.02},{"series":"Mean","x":33,"y":0.015},{"series":"Mean","x":34,"y":0.012},{"series":"Mean","x":35,"y":0.01},{"series":"Mean","x":100,"y":0.01}
]
},
"columns": 2,
"spacing": {"row": 108, "column": 140},
"bounds": "flush",
"resolve": {"scale": {"color": "independent", "strokeDash": "independent", "strokeWidth": "independent"}},
"concat": [
{
 "width": 456, "height": 343,
 "layer": [
  {"data": {"name": "a"}, "mark": {"type": "line", "strokeCap": "butt"},
   "encoding": {
    "x": {"field": "x", "type": "quantitative", "scale": {"domain": [0, 100]}, "axis": {"values": [0, 20, 40, 60, 80, 100], "format": "d", "title": "Number of p-Refined Elements"}},
    "y": {"field": "y", "type": "quantitative", "scale": {"domain": [0, 40]}, "axis": {"values": [0, 10, 20, 30, 40], "format": "d", "title": "QoI Percent Error"}},
    "color": {"field": "series", "type": "nominal", "scale": {"domain": ["Mean","Case A","Case B","Case C","Case D","Case E","Case F","Case G","Case H","Case I","Case J","Case K","Case L"], "range": ["#000000","#0072BD","#D95319","#EDB120","#7E2F8E","#77AC30","#4DBEEE","#A2142F","#0072BD","#D95319","#EDB120","#7E2F8E","#77AC30"]}, "legend": {"title": null, "orient": "none", "legendX": 329, "legendY": 5}},
    "strokeDash": {"field": "series", "type": "nominal", "scale": {"domain": ["Mean","Case A","Case B","Case C","Case D","Case E","Case F","Case G","Case H","Case I","Case J","Case K","Case L"], "range": [[1,0],[6,3,2,3],[6,3],[6,3],[6,3,2,3],[6,3],[6,3],[6,3,2,3],[6,3,2,3],[6,3,2,3],[6,3],[6,3,2,3],[6,3,2,3]]}, "legend": {"title": null, "orient": "none", "legendX": 329, "legendY": 5}},
    "strokeWidth": {"field": "series", "type": "nominal", "scale": {"type": "ordinal", "domain": ["Mean","Case A","Case B","Case C","Case D","Case E","Case F","Case G","Case H","Case I","Case J","Case K","Case L"], "range": [6,2.2,2.2,2.2,2.2,2.2,2.2,2.2,2.2,2.2,2.2,2.2,2.2]}, "legend": {"title": null, "orient": "none", "legendX": 329, "legendY": 5}}
   }},
  {"data": {"values": [{}]}, "mark": {"type": "rect", "fill": "transparent", "stroke": "#000000", "strokeWidth": 1},
   "encoding": {"x": {"datum": -16.9, "type": "quantitative", "scale": {"domain": [0, 100]}}, "x2": {"datum": 112.5}, "y": {"datum": 44.3, "type": "quantitative", "scale": {"domain": [0, 40]}}, "y2": {"datum": -7.6}}},
  {"data": {"values": [{}]}, "mark": {"type": "text", "font": "Liberation Sans", "fontSize": 21, "fontWeight": "bold", "color": "#000000", "align": "center", "baseline": "middle", "text": "QoI Error vs. Refinement"},
   "encoding": {"x": {"datum": 50, "type": "quantitative", "scale": {"domain": [0, 100]}}, "y": {"datum": 41.85, "type": "quantitative", "scale": {"domain": [0, 40]}}}},
  {"data": {"values": [{}]}, "mark": {"type": "text", "font": "Liberation Serif", "fontSize": 21, "color": "#000000", "align": "center", "baseline": "middle", "text": "(a)"},
   "encoding": {"x": {"datum": -11.4, "type": "quantitative", "scale": {"domain": [0, 100]}}, "y": {"datum": -1.4, "type": "quantitative", "scale": {"domain": [0, 40]}}}}
 ]
},
{
 "width": 456, "height": 343,
 "layer": [
  {"data": {"name": "b"}, "mark": {"type": "line", "strokeCap": "butt"},
   "encoding": {
    "x": {"field": "x", "type": "quantitative", "scale": {"domain": [0, 100]}, "axis": {"values": [0, 20, 40, 60, 80, 100], "format": "d", "title": "Number of p-Refined Elements"}},
    "y": {"field": "y", "type": "quantitative", "scale": {"domain": [0, 40]}, "axis": {"values": [0, 10, 20, 30, 40], "format": "d", "title": "QoI Percent Error"}},
    "color": {"field": "series", "type": "nominal", "scale": {"domain": ["Mean","Case A","Case B","Case C","Case D","Case E","Case F","Case G","Case H","Case I","Case J","Case K","Case L"], "range": ["#000000","#0072BD","#D95319","#EDB120","#7E2F8E","#77AC30","#4DBEEE","#A2142F","#0072BD","#D95319","#EDB120","#7E2F8E","#77AC30"]}, "legend": {"title": null, "orient": "none", "legendX": 329, "legendY": 5}},
    "strokeDash": {"field": "series", "type": "nominal", "scale": {"domain": ["Mean","Case A","Case B","Case C","Case D","Case E","Case F","Case G","Case H","Case I","Case J","Case K","Case L"], "range": [[1,0],[6,3,2,3],[6,3],[6,3],[6,3,2,3],[6,3],[6,3],[6,3,2,3],[6,3,2,3],[6,3,2,3],[6,3],[6,3,2,3],[6,3,2,3]]}, "legend": {"title": null, "orient": "none", "legendX": 329, "legendY": 5}},
    "strokeWidth": {"field": "series", "type": "nominal", "scale": {"type": "ordinal", "domain": ["Mean","Case A","Case B","Case C","Case D","Case E","Case F","Case G","Case H","Case I","Case J","Case K","Case L"], "range": [6,2.2,2.2,2.2,2.2,2.2,2.2,2.2,2.2,2.2,2.2,2.2,2.2]}, "legend": {"title": null, "orient": "none", "legendX": 329, "legendY": 5}}
   }},
  {"data": {"values": [{}]}, "mark": {"type": "rect", "fill": "transparent", "stroke": "#000000", "strokeWidth": 1},
   "encoding": {"x": {"datum": -17.1, "type": "quantitative", "scale": {"domain": [0, 100]}}, "x2": {"datum": 110}, "y": {"datum": 44.3, "type": "quantitative", "scale": {"domain": [0, 40]}}, "y2": {"datum": -7.6}}},
  {"data": {"values": [{}]}, "mark": {"type": "text", "font": "Liberation Sans", "fontSize": 21, "fontWeight": "bold", "color": "#000000", "align": "center", "baseline": "middle", "text": "QoI Error vs. Refinement"},
   "encoding": {"x": {"datum": 50, "type": "quantitative", "scale": {"domain": [0, 100]}}, "y": {"datum": 41.85, "type": "quantitative", "scale": {"domain": [0, 40]}}}},
  {"data": {"values": [{}]}, "mark": {"type": "text", "font": "Liberation Serif", "fontSize": 21, "color": "#000000", "align": "center", "baseline": "middle", "text": "(b)"},
   "encoding": {"x": {"datum": -10, "type": "quantitative", "scale": {"domain": [0, 100]}}, "y": {"datum": -1.4, "type": "quantitative", "scale": {"domain": [0, 40]}}}}
 ]
},
{
 "width": 456, "height": 343,
 "layer": [
  {"data": {"name": "c"}, "mark": {"type": "line", "strokeCap": "butt"},
   "encoding": {
    "x": {"field": "x", "type": "quantitative", "scale": {"domain": [0, 100]}, "axis": {"values": [0, 20, 40, 60, 80, 100], "format": "d", "title": "Number of p-Refined Elements"}},
    "y": {"field": "y", "type": "quantitative", "scale": {"domain": [0, 1]}, "axis": {"values": [0, 0.2, 0.4, 0.6, 0.8, 1], "format": ".1~f", "title": "QoI Corrected Percent Error"}},
    "color": {"field": "series", "type": "nominal", "scale": {"domain": ["Mean","Case A","Case B","Case C","Case D","Case E","Case F","Case G","Case H","Case I","Case J","Case K","Case L"], "range": ["#000000","#0072BD","#D95319","#EDB120","#7E2F8E","#77AC30","#4DBEEE","#A2142F","#0072BD","#D95319","#EDB120","#7E2F8E","#77AC30"]}, "legend": {"title": null, "orient": "none", "legendX": 329, "legendY": 16}},
    "strokeDash": {"field": "series", "type": "nominal", "scale": {"domain": ["Mean","Case A","Case B","Case C","Case D","Case E","Case F","Case G","Case H","Case I","Case J","Case K","Case L"], "range": [[1,0],[6,3,2,3],[6,3],[6,3],[6,3,2,3],[6,3],[6,3],[6,3,2,3],[6,3,2,3],[6,3,2,3],[6,3],[6,3,2,3],[6,3,2,3]]}, "legend": {"title": null, "orient": "none", "legendX": 329, "legendY": 16}},
    "strokeWidth": {"field": "series", "type": "nominal", "scale": {"type": "ordinal", "domain": ["Mean","Case A","Case B","Case C","Case D","Case E","Case F","Case G","Case H","Case I","Case J","Case K","Case L"], "range": [6,2.2,2.2,2.2,2.2,2.2,2.2,2.2,2.2,2.2,2.2,2.2,2.2]}, "legend": {"title": null, "orient": "none", "legendX": 329, "legendY": 16}}
   }},
  {"data": {"values": [{}]}, "mark": {"type": "rule", "stroke": "#000000", "strokeWidth": 1},
   "encoding": {"x": {"datum": -16.9, "type": "quantitative", "scale": {"domain": [0, 100]}}, "x2": {"datum": 112.3}, "y": {"datum": 1.105, "type": "quantitative", "scale": {"domain": [0, 1]}}}},
  {"data": {"values": [{}]}, "mark": {"type": "rule", "stroke": "#000000", "strokeWidth": 1},
   "encoding": {"x": {"datum": -16.9, "type": "quantitative", "scale": {"domain": [0, 100]}}, "y": {"datum": -0.178, "type": "quantitative", "scale": {"domain": [0, 1]}}, "y2": {"datum": 1.105}}},
  {"data": {"values": [{}]}, "mark": {"type": "rule", "stroke": "#000000", "strokeWidth": 1},
   "encoding": {"x": {"datum": 112.3, "type": "quantitative", "scale": {"domain": [0, 100]}}, "y": {"datum": -0.178, "type": "quantitative", "scale": {"domain": [0, 1]}}, "y2": {"datum": 1.105}}},
  {"data": {"values": [{}]}, "mark": {"type": "text", "font": "Liberation Sans", "fontSize": 21, "fontWeight": "bold", "color": "#000000", "align": "center", "baseline": "middle", "text": "QoI Corrected Error vs. Refinement"},
   "encoding": {"x": {"datum": 50, "type": "quantitative", "scale": {"domain": [0, 100]}}, "y": {"datum": 1.044, "type": "quantitative", "scale": {"domain": [0, 1]}}}},
  {"data": {"values": [{}]}, "mark": {"type": "text", "font": "Liberation Serif", "fontSize": 21, "color": "#000000", "align": "center", "baseline": "middle", "text": "(c)"},
   "encoding": {"x": {"datum": -10.7, "type": "quantitative", "scale": {"domain": [0, 100]}}, "y": {"datum": -0.043, "type": "quantitative", "scale": {"domain": [0, 1]}}}}
 ]
},
{
 "width": 456, "height": 343,
 "layer": [
  {"data": {"name": "d"}, "mark": {"type": "line", "strokeCap": "butt"},
   "encoding": {
    "x": {"field": "x", "type": "quantitative", "scale": {"domain": [0, 100]}, "axis": {"values": [0, 20, 40, 60, 80, 100], "format": "d", "title": "Number of p-Refined Elements"}},
    "y": {"field": "y", "type": "quantitative", "scale": {"domain": [0, 1]}, "axis": {"values": [0, 0.2, 0.4, 0.6, 0.8, 1], "format": ".1~f", "title": "QoI Corrected Percent Error"}},
    "color": {"field": "series", "type": "nominal", "scale": {"domain": ["Mean","Case A","Case B","Case C","Case D","Case E","Case F","Case G","Case H","Case I","Case J","Case K","Case L"], "range": ["#000000","#0072BD","#D95319","#EDB120","#7E2F8E","#77AC30","#4DBEEE","#A2142F","#0072BD","#D95319","#EDB120","#7E2F8E","#77AC30"]}, "legend": {"title": null, "orient": "none", "legendX": 329, "legendY": 16}},
    "strokeDash": {"field": "series", "type": "nominal", "scale": {"domain": ["Mean","Case A","Case B","Case C","Case D","Case E","Case F","Case G","Case H","Case I","Case J","Case K","Case L"], "range": [[1,0],[6,3,2,3],[6,3],[6,3],[6,3,2,3],[6,3],[6,3],[6,3,2,3],[6,3,2,3],[6,3,2,3],[6,3],[6,3,2,3],[6,3,2,3]]}, "legend": {"title": null, "orient": "none", "legendX": 329, "legendY": 16}},
    "strokeWidth": {"field": "series", "type": "nominal", "scale": {"type": "ordinal", "domain": ["Mean","Case A","Case B","Case C","Case D","Case E","Case F","Case G","Case H","Case I","Case J","Case K","Case L"], "range": [6,2.2,2.2,2.2,2.2,2.2,2.2,2.2,2.2,2.2,2.2,2.2,2.2]}, "legend": {"title": null, "orient": "none", "legendX": 329, "legendY": 16}}
   }},
  {"data": {"values": [{}]}, "mark": {"type": "rule", "stroke": "#000000", "strokeWidth": 1},
   "encoding": {"x": {"datum": -17.1, "type": "quantitative", "scale": {"domain": [0, 100]}}, "x2": {"datum": 110}, "y": {"datum": 1.105, "type": "quantitative", "scale": {"domain": [0, 1]}}}},
  {"data": {"values": [{}]}, "mark": {"type": "rule", "stroke": "#000000", "strokeWidth": 1},
   "encoding": {"x": {"datum": -17.1, "type": "quantitative", "scale": {"domain": [0, 100]}}, "y": {"datum": -0.178, "type": "quantitative", "scale": {"domain": [0, 1]}}, "y2": {"datum": 1.105}}},
  {"data": {"values": [{}]}, "mark": {"type": "rule", "stroke": "#000000", "strokeWidth": 1},
   "encoding": {"x": {"datum": 110, "type": "quantitative", "scale": {"domain": [0, 100]}}, "y": {"datum": -0.178, "type": "quantitative", "scale": {"domain": [0, 1]}}, "y2": {"datum": 1.105}}},
  {"data": {"values": [{}]}, "mark": {"type": "text", "font": "Liberation Sans", "fontSize": 21, "fontWeight": "bold", "color": "#000000", "align": "center", "baseline": "middle", "text": "QoI Corrected Error vs. Refinement"},
   "encoding": {"x": {"datum": 50, "type": "quantitative", "scale": {"domain": [0, 100]}}, "y": {"datum": 1.044, "type": "quantitative", "scale": {"domain": [0, 1]}}}},
  {"data": {"values": [{}]}, "mark": {"type": "text", "font": "Liberation Serif", "fontSize": 21, "color": "#000000", "align": "center", "baseline": "middle", "text": "(d)"},
   "encoding": {"x": {"datum": -10, "type": "quantitative", "scale": {"domain": [0, 100]}}, "y": {"datum": -0.032, "type": "quantitative", "scale": {"domain": [0, 1]}}}}
 ]
}
]
}
